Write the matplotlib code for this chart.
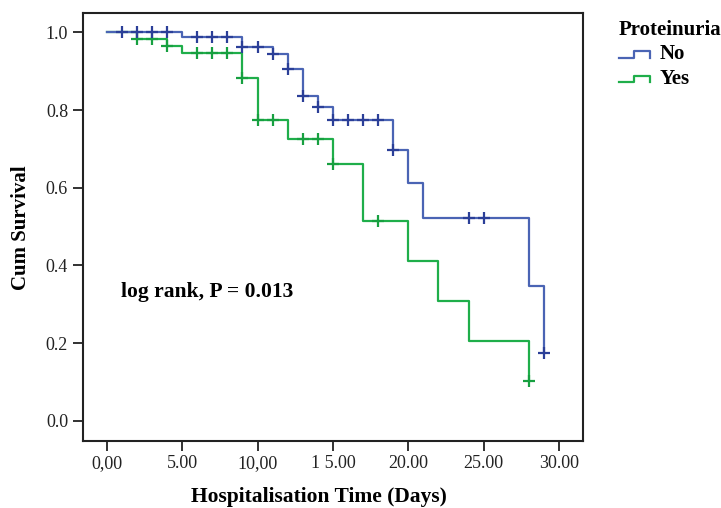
import matplotlib
matplotlib.use("Agg")
import matplotlib.pyplot as plt
from matplotlib.legend_handler import HandlerBase
from matplotlib.lines import Line2D

plt.rcParams['font.family'] = ['Liberation Serif', 'DejaVu Serif']

# Kaplan-Meier steps (time of drop, survival after the drop)
no_times = [0, 5, 9, 11, 12, 13, 14, 15, 19, 20, 21, 28, 29]
no_surv = [1.0, 0.988, 0.962, 0.944, 0.906, 0.836, 0.808, 0.773, 0.698, 0.612, 0.522, 0.347, 0.174]
no_cens_t = [1, 2, 3, 4, 6, 7, 8, 9, 10, 11, 12, 13, 14, 15, 16, 17, 18, 19, 24, 25, 29]

yes_times = [0, 2, 4, 5, 9, 10, 12, 15, 17, 20, 22, 24, 28]
yes_surv = [1.0, 0.983, 0.964, 0.946, 0.882, 0.774, 0.726, 0.661, 0.515, 0.410, 0.308, 0.206, 0.103]
yes_cens_t = [2, 3, 4, 6, 7, 8, 9, 10, 11, 13, 14, 15, 18, 28]

xticks = [0, 5, 10, 15, 20, 25, 30]
xticklabels = ['0,00', '5.00', '10,00', '1 5.00', '20.00', '25.00', '30.00']
yticks = [0.0, 0.2, 0.4, 0.6, 0.8, 1.0]

blue = '#4a64b4'
blue_mark = '#2b3f98'
green = '#1fae4a'
green_mark = '#17a040'


def surv_at(times, surv, t):
    s = surv[0]
    for ti, si in zip(times, surv):
        if ti <= t:
            s = si
    return s


class StepHandler(HandlerBase):
    def create_artists(self, legend, orig_handle, xdescent, ydescent,
                       width, height, fontsize, trans):
        x0 = -xdescent
        y0 = -ydescent + height * 0.1
        y1 = -ydescent + height * 0.55
        xs = [x0, x0 + width * 0.5, x0 + width * 0.5, x0 + width, x0 + width]
        ys = [y0, y0, y1, y1, y0]
        ln = Line2D(xs, ys, color=orig_handle.get_color(), lw=1.6, transform=trans)
        return [ln]


fig = plt.figure(figsize=(7.21, 5.08), dpi=100)
ax = fig.add_axes([0.1147, 0.1325, 0.6943, 0.8413])

ax.step(yes_times, yes_surv, where='post', color=green, lw=1.6)
ax.step(no_times, no_surv, where='post', color=blue, lw=1.6)

ax.plot(yes_cens_t, [surv_at(yes_times, yes_surv, t) for t in yes_cens_t],
        linestyle='none', marker='+', ms=8, mew=1.6, color=green_mark)
ax.plot(no_cens_t, [surv_at(no_times, no_surv, t) for t in no_cens_t],
        linestyle='none', marker='+', ms=8, mew=1.6, color=blue_mark)

ax.set_xlim(-1.59, 31.6)
ax.set_ylim(-0.0515, 1.049)
ax.set_xticks(xticks)
ax.set_xticklabels(xticklabels)
ax.set_yticks(yticks)
ax.set_yticklabels(['%.1f' % v for v in yticks])
ax.tick_params(direction='out', length=7, width=1.3, labelsize=13, colors='#222222')
for sp in ax.spines.values():
    sp.set_linewidth(1.5)
    sp.set_color('#222222')

ax.set_xlabel('Hospitalisation Time (Days)', fontsize=15.5, fontweight='bold')
ax.xaxis.set_label_coords(0.471, -0.132)
ax.xaxis.label.set_va('center')
ax.set_ylabel('Cum Survival', fontsize=15, fontweight='bold')
ax.yaxis.set_label_coords(-0.123, 0.499)
ax.yaxis.label.set_va('center')

ax.text(0.95, 0.331, 'log rank, P = 0.013', fontsize=15.5, fontweight='bold',
        va='center', ha='left')

h_no = Line2D([], [], color=blue)
h_yes = Line2D([], [], color=green)
leg = fig.legend([h_no, h_yes], ['No', 'Yes'], title='Proteinuria',
                 handler_map={Line2D: StepHandler()},
                 loc='upper left', bbox_to_anchor=(0.858, 0.96),
                 frameon=False, handlelength=1.5, handletextpad=0.45,
                 borderaxespad=0, borderpad=0, labelspacing=0.2,
                 prop={'size': 15, 'weight': 'bold'},
                 title_fontproperties={'size': 15, 'weight': 'bold'})
leg._legend_box.align = 'left'

fig.savefig('out.png', dpi=100)
